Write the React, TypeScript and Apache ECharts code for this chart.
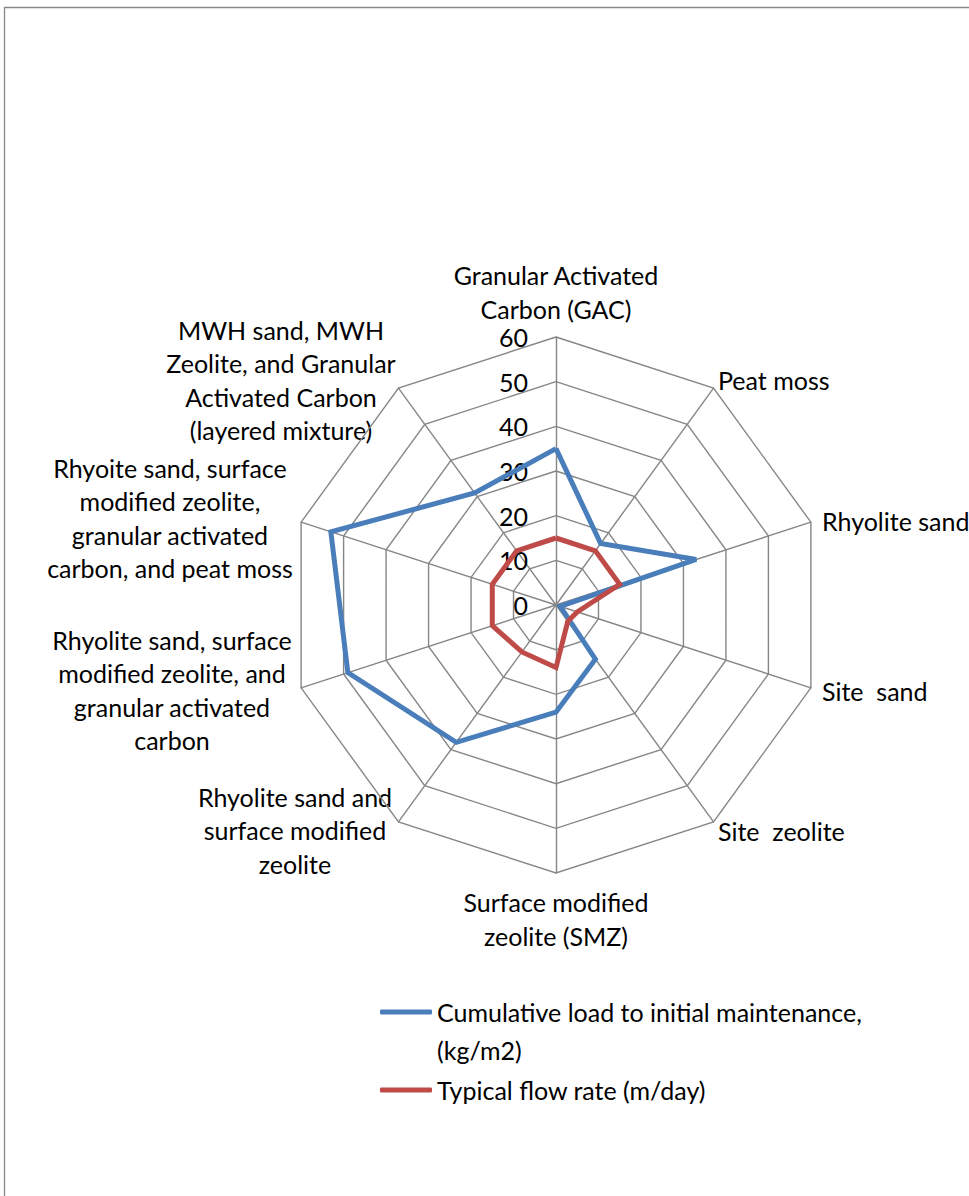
import React, { useEffect, useRef } from "react";
import * as echarts from "echarts";

// ---- data ----
const categories: string[] = [
  "Granular Activated\nCarbon (GAC)",
  "Peat moss",
  "Rhyolite sand",
  "Site  sand",
  "Site  zeolite",
  "Surface modified\nzeolite (SMZ)",
  "Rhyolite sand and\nsurface modified\nzeolite",
  "Rhyolite sand, surface\nmodified zeolite, and\ngranular activated\ncarbon",
  "Rhyoite sand, surface\nmodified zeolite,\ngranular activated\ncarbon, and peat moss",
  "MWH sand, MWH\nZeolite, and Granular\nActivated Carbon\n(layered mixture)",
];
const seriesNames: string[] = [
  "Cumulative load to initial maintenance, (kg/m2)",
  "Typical flow rate (m/day)",
];
const cumulativeLoad: number[] = [35, 17, 33, 1, 15, 24, 38, 49, 53, 31];
const flowRate: number[] = [15, 15, 15, 5, 4.5, 14, 13, 15, 15, 15];
const axisMin = 0;
const axisMax = 60;
const axisSplits = 6;

// ---- layout / style ----
const FONT = "Lato";
const FS = 25;
const BLUE = "#4A7EBB";
const RED = "#BE4B48";
const GRID = "#868686";
const CENTER: [number, number] = [556, 605];
const RADIUS = 268;

// label anchors for category names (clockwise from top)
const labelPos: { x: number; y: number; align: string }[] = [
  { x: 556, y: 292, align: "center" },
  { x: 718, y: 380, align: "left" },
  { x: 822, y: 521, align: "left" },
  { x: 822, y: 691, align: "left" },
  { x: 718, y: 831, align: "left" },
  { x: 556, y: 919, align: "center" },
  { x: 295, y: 830, align: "center" },
  { x: 172, y: 690, align: "center" },
  { x: 170, y: 518, align: "center" },
  { x: 281, y: 380, align: "center" },
];

// ECharts places radar indicators counter-clockwise; reorder so they run clockwise.
const order = categories.map((_, i) => (i === 0 ? 0 : categories.length - i));

export default function App() {
  const ref = useRef<HTMLDivElement>(null);
  useEffect(() => {
    document.body.style.margin = "0";
    document.body.style.overflow = "hidden";
    const chart = echarts.init(ref.current!, null, { renderer: "svg" });
    const indicator = order.map((idx, j) => {
      const ind: any = { name: categories[idx], min: axisMin, max: axisMax };
      if (j === 0) {
        ind.axisLabel = {
          show: true,
          fontSize: FS,
          fontFamily: FONT,
          color: "#000",
          margin: 28,
        };
      }
      return ind;
    });
    const legendText = {
      fontSize: FS,
      fontFamily: FONT,
      color: "#000",
      lineHeight: 38,
    };
    const option: any = {
      animation: false,
      backgroundColor: "#fff",
      radar: {
        center: CENTER,
        radius: RADIUS,
        startAngle: 90,
        splitNumber: axisSplits,
        shape: "polygon",
        axisName: { show: false },
        axisLine: { lineStyle: { color: GRID, width: 1.4 } },
        splitLine: { lineStyle: { color: GRID, width: 1.4 } },
        splitArea: { show: false },
        axisTick: { show: false },
        axisLabel: { show: false },
        indicator,
      },
      legend: [
        {
          data: [seriesNames[0]],
          left: 380,
          top: 955,
          padding: 0,
          orient: "vertical",
          icon: "roundRect",
          itemWidth: 52,
          itemHeight: 5,
          selectedMode: false,
          formatter: (n: string) => "\u00a0\n" + n.replace(", (", ",\n("),
          textStyle: legendText,
        },
        {
          data: [seriesNames[1]],
          left: 380,
          top: 1071,
          padding: 0,
          orient: "vertical",
          icon: "roundRect",
          itemWidth: 52,
          itemHeight: 5,
          selectedMode: false,
          textStyle: legendText,
        },
      ],
      series: [
        {
          type: "radar",
          symbol: "none",
          data: [
            {
              name: seriesNames[0],
              value: order.map((i) => cumulativeLoad[i]),
              lineStyle: { color: BLUE, width: 5, join: "miter" },
              itemStyle: { color: BLUE },
            },
            {
              name: seriesNames[1],
              value: order.map((i) => flowRate[i]),
              lineStyle: { color: RED, width: 5, join: "miter" },
              itemStyle: { color: RED },
            },
          ],
        },
      ],
      graphic: [
        {
          type: "rect",
          silent: true,
          shape: { x: 4.5, y: 7.5, width: 1400, height: 1400 },
          style: { fill: "none", stroke: "#878787", lineWidth: 1.3 },
        },
        ...categories.map((name, i) => ({
          type: "text",
          silent: true,
          style: {
            text: name,
            x: labelPos[i].x,
            y: labelPos[i].y,
            align: labelPos[i].align,
            verticalAlign: "middle",
            font: `${FS}px ${FONT}`,
            fill: "#000",
            lineHeight: 33.5,
          },
        })),
      ],
    };
    chart.setOption(option);
    return () => chart.dispose();
  }, []);
  return <div ref={ref} style={{ width: 969, height: 1196 }} />;
}
